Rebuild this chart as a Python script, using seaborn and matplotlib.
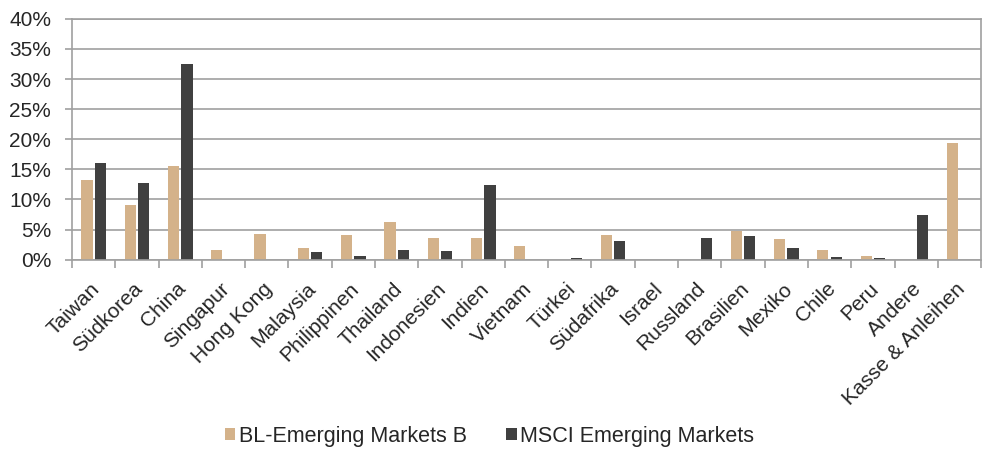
import pandas as pd
import numpy as np
import matplotlib.pyplot as plt
import matplotlib.transforms as mtransforms
import seaborn as sns
from matplotlib.ticker import FuncFormatter, FixedLocator

# Länderallokation (in %)
countries = ['Taiwan', 'Südkorea', 'China', 'Singapur', 'Hong Kong', 'Malaysia',
             'Philippinen', 'Thailand', 'Indonesien', 'Indien', 'Vietnam', 'Türkei',
             'Südafrika', 'Israel', 'Russland', 'Brasilien', 'Mexiko', 'Chile',
             'Peru', 'Andere', 'Kasse & Anleihen']
bl_values = [13.2, 9.1, 15.6, 1.55, 4.3, 1.9, 4.15, 6.25, 3.65, 3.65, 2.3, 0.0,
             4.1, 0.0, 0.0, 4.75, 3.45, 1.65, 0.65, 0.0, 19.4]
msci_values = [16.0, 12.75, 32.5, 0.0, 0.0, 1.3, 0.65, 1.6, 1.4, 12.45, 0.0, 0.3,
               3.1, 0.0, 3.55, 3.95, 2.0, 0.4, 0.2, 7.4, 0.0]
series = ['BL-Emerging Markets B', 'MSCI Emerging Markets']

df = pd.DataFrame({
    'Land': countries * 2,
    'Anteil': bl_values + msci_values,
    'Fonds': [series[0]] * len(countries) + [series[1]] * len(countries),
})

sns.set_style('white')
plt.rcParams['font.family'] = ['Liberation Sans', 'DejaVu Sans']

fig, ax = plt.subplots(figsize=(9.87, 4.5), dpi=100)
fig.subplots_adjust(left=0.073, right=0.994, top=0.958, bottom=0.423)

sns.barplot(data=df, x='Land', y='Anteil', hue='Fonds', palette=['#D4B28A', '#404040'],
            width=0.62, gap=0.16, saturation=1, linewidth=0, ax=ax, legend=True)

ax.set_ylim(0, 40)
ax.set_yticks(range(0, 41, 5))
ax.yaxis.set_major_formatter(FuncFormatter(lambda v, p: f'{int(v)}%'))
ax.set_xlim(-0.5, len(countries) - 0.5)
ax.grid(axis='y', color='#a0a0a0', linewidth=1.2)
ax.set_axisbelow(True)
for s in ax.spines.values():
    s.set_color('#a0a0a0')
    s.set_linewidth(1.2)

ax.set_xlabel('')
ax.set_ylabel('')
ax.tick_params(axis='y', labelsize=15, length=5, color='#a0a0a0', width=1.2, left=True, pad=10)
ax.tick_params(axis='x', which='major', labelsize=15, length=0, pad=14)
ax.xaxis.set_minor_locator(FixedLocator(np.arange(-0.5, len(countries), 1)))
ax.tick_params(axis='x', which='minor', length=6, color='#a0a0a0', width=1.2, bottom=True)
shift = mtransforms.ScaledTranslation(-4 / 100, 0, fig.dpi_scale_trans)
for lbl in ax.get_xticklabels():
    lbl.set_rotation(45)
    lbl.set_ha('right')
    lbl.set_rotation_mode('anchor')
    lbl.set_transform(lbl.get_transform() + shift)

handles, labels = ax.get_legend_handles_labels()
ax.get_legend().remove()
fig.legend(handles, labels, loc='center', bbox_to_anchor=(0.496, 0.031), ncol=2,
           frameon=False, fontsize=15.5, handlelength=0.5, handleheight=0.5,
           handletextpad=0.15, columnspacing=1.85)

fig.savefig('out.png', dpi=100)
